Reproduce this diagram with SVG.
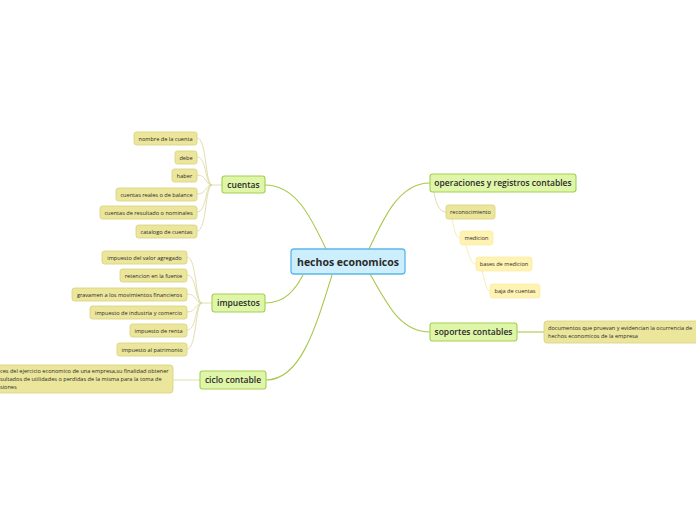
<svg xmlns="http://www.w3.org/2000/svg" width="696" height="520" viewBox="0 0 696 520">
<style>
.main{fill:#cdeefc;stroke:#5bb8e8;stroke-width:1.3}
.topic{fill:#dff5a8;stroke:#a3cf52;stroke-width:1.1}
.sub{fill:#ebe69b;stroke:#d8d07c;stroke-width:0.8}
.sub2{fill:#fff3b4;stroke:#fbe89a;stroke-width:0.6}
.t{font-family:"Open Sans","DejaVu Sans",sans-serif;fill:#2a2a2a}
.tm{font-size:10.5px;font-weight:700;text-anchor:middle}
.tt{font-size:8.5px;font-weight:600;text-anchor:middle}
.ts{font-size:5.6px;text-anchor:middle}
.tl{font-size:5.6px}
.c1{fill:none;stroke:#a8c84a;stroke-width:1.1}
.c2{fill:none;stroke:#d9d59a;stroke-width:0.8}
.c3{fill:none;stroke:#f7e9a0;stroke-width:0.8}
</style>
<rect width="696" height="520" fill="#ffffff"/>
<g id="connectors">
<path class="c1" d="M369,249 C385,215 400,183 430,183"/>
<path class="c1" d="M370,274 C388,305 400,332 430,332"/>
<path class="c1" d="M326,249 C310,215 295,185 265,185"/>
<path class="c1" d="M303,275 C295,290 285,303 265,303"/>
<path class="c1" d="M332,275 C315,330 300,380 266,380"/>
<path class="c1" d="M517,332 L544,332"/>
<path class="c2" d="M173,380 L200,380"/>
<path class="c2" d="M222,185 L212,185 C205,185 207,138 197,138"/>
<path class="c2" d="M212,185 C205,185 207,157 197,157"/>
<path class="c2" d="M212,185 C205,185 207,175 197,175"/>
<path class="c2" d="M212,185 C205,185 207,194 197,194"/>
<path class="c2" d="M212,185 C205,185 207,212 197,212"/>
<path class="c2" d="M212,185 C205,185 207,231 197,231"/>
<path class="c2" d="M212,303 L202,303 C195,303 197,257 187,257"/>
<path class="c2" d="M202,303 C195,303 197,275 187,275"/>
<path class="c2" d="M202,303 C195,303 197,294 187,294"/>
<path class="c2" d="M202,303 C195,303 197,312 187,312"/>
<path class="c2" d="M202,303 C195,303 197,330 187,330"/>
<path class="c2" d="M202,303 C195,303 197,349 187,349"/>
<path class="c2" d="M434,192 C436,205 440,212 446,212"/>
<path class="c3" d="M452,219 C455,232 456,238 460,238"/>
<path class="c3" d="M466,245 C470,258 471,264 476,264"/>
<path class="c3" d="M482,271 C486,284 486,291 490,291"/>
</g>
<g id="hechos-economicos"><rect class="main" x="291" y="249" width="114" height="25" rx="3"/><text class="t tm" x="348" y="265.5">hechos economicos</text></g>
<g id="cuentas"><rect class="topic" x="222" y="176" width="43" height="17" rx="2.5"/><text class="t tt" x="243.5" y="187.5">cuentas</text></g>
<g id="nombre"><rect class="sub" x="134" y="132" width="63" height="13" rx="2.5"/><text class="t ts" x="165.5" y="140.5">nombre de la cuenta</text></g>
<g id="debe"><rect class="sub" x="175" y="151" width="22" height="13" rx="2.5"/><text class="t ts" x="186" y="159.5">debe</text></g>
<g id="haber"><rect class="sub" x="172" y="169" width="25" height="13" rx="2.5"/><text class="t ts" x="184.5" y="177.5">haber</text></g>
<g id="reales"><rect class="sub" x="116" y="188" width="81" height="13" rx="2.5"/><text class="t ts" x="156.5" y="196.5">cuentas reales o de balance</text></g>
<g id="resultado"><rect class="sub" x="100" y="206" width="97" height="13" rx="2.5"/><text class="t ts" x="148.5" y="214.5">cuentas de resultado o nominales</text></g>
<g id="catalogo"><rect class="sub" x="136" y="225" width="61" height="13" rx="2.5"/><text class="t ts" x="166.5" y="233.5">catalogo de cuentas</text></g>
<g id="impuestos"><rect class="topic" x="212" y="294" width="53" height="18" rx="2.5"/><text class="t tt" x="238.5" y="306">impuestos</text></g>
<g id="iva"><rect class="sub" x="102" y="251" width="85" height="13" rx="2.5"/><text class="t ts" x="144.5" y="259.5">impuesto del valor agregado</text></g>
<g id="retencion"><rect class="sub" x="120" y="269" width="67" height="13" rx="2.5"/><text class="t ts" x="153.5" y="277.5">retencion en la fuente</text></g>
<g id="gravamen"><rect class="sub" x="72" y="288" width="115" height="13" rx="2.5"/><text class="t ts" x="129.5" y="296.5">gravamen a los movimientos financieros</text></g>
<g id="ica"><rect class="sub" x="90" y="306" width="97" height="13" rx="2.5"/><text class="t ts" x="138.5" y="314.5">impuesto de industria y comercio</text></g>
<g id="renta"><rect class="sub" x="130" y="324" width="57" height="13" rx="2.5"/><text class="t ts" x="158.5" y="332.5">impuesto de renta</text></g>
<g id="patrimonio"><rect class="sub" x="117" y="343" width="70" height="13" rx="2.5"/><text class="t ts" x="152" y="351.5">impuesto al patrimonio</text></g>
<g id="ciclo-contable"><rect class="topic" x="200" y="371" width="66" height="18" rx="2.5"/><text class="t tt" x="233" y="383">ciclo contable</text></g>
<g id="ciclo-desc"><rect class="sub" x="-12" y="365" width="185" height="28" rx="3"/><text class="t tl" x="0" y="372.5">ces del ejercicio economico de una empresa,su finalidad obtener</text><text class="t tl" x="0" y="380.5">sultados de utilidades o perdidas de la misma para la toma de</text><text class="t tl" x="0" y="388.5">siones</text></g>
<g id="operaciones"><rect class="topic" x="430" y="174" width="146" height="18" rx="2.5"/><text class="t tt" x="503" y="186">operaciones y registros contables</text></g>
<g id="reconocimiento"><rect class="sub" x="446" y="205" width="49" height="14" rx="2.5"/><text class="t ts" x="470.5" y="214">reconocimiento</text></g>
<g id="medicion"><rect class="sub2" x="460" y="231" width="33" height="14" rx="2.5"/><text class="t ts" x="476.5" y="240">medicion</text></g>
<g id="bases"><rect class="sub2" x="476" y="257" width="56" height="14" rx="2.5"/><text class="t ts" x="504" y="266">bases de medicion</text></g>
<g id="baja"><rect class="sub2" x="490" y="284" width="50" height="14" rx="2.5"/><text class="t ts" x="515" y="293">baja de cuentas</text></g>
<g id="soportes"><rect class="topic" x="430" y="323" width="87" height="18" rx="2.5"/><text class="t tt" x="473.5" y="335">soportes contables</text></g>
<g id="soportes-desc"><rect class="sub" x="544" y="321" width="164" height="22" rx="3"/><text class="t tl" x="548" y="330">documentos que pruevan y  evidencian la ocurrencia de</text><text class="t tl" x="548" y="338">hechos economicos de la empresa</text></g>
</svg>
